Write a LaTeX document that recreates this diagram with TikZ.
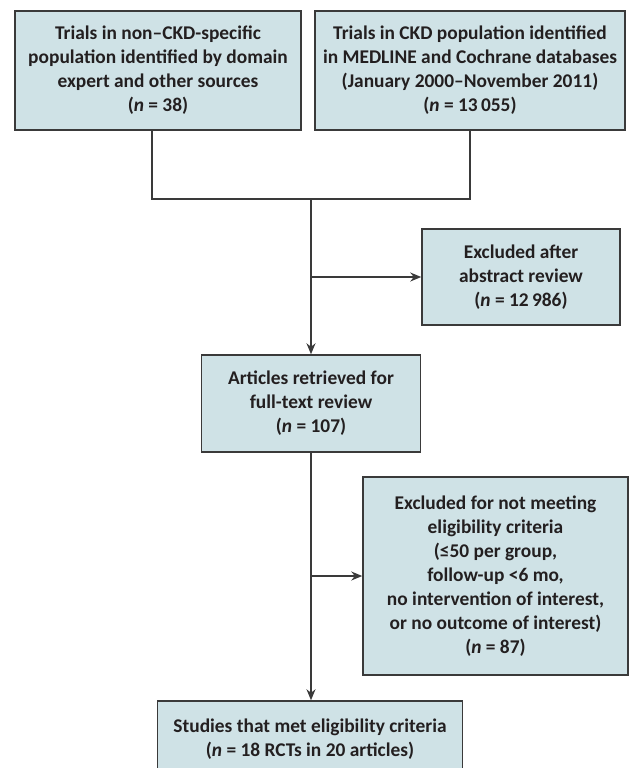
\documentclass[tikz,border=0pt]{standalone}
\usepackage{fontspec}
\setmainfont{Carlito}
\usetikzlibrary{positioning, arrows.meta}
\definecolor{boxfill}{HTML}{CFE2E6}
\definecolor{boxline}{HTML}{3A3A3A}
\definecolor{inkdark}{HTML}{231F20}
\begin{document}
\begin{tikzpicture}[x=0.5pt, y=-0.5pt, font=\bfseries\fontsize{9.7}{12}\selectfont, text=inkdark]

% Define styles
\tikzstyle{box} = [rectangle, draw=boxline, line width=0.75pt, fill=boxfill, align=center, inner sep=0pt]
\tikzstyle{arrow} = [draw=boxline, line width=0.7pt, -{Stealth[length=5.5pt, width=4.5pt]}]
\tikzstyle{link} = [draw=boxline, line width=0.7pt]

% Page
\clip (0,0) rectangle (630,768);
\fill[white] (0,0) rectangle (630,768);

% Sources
\node[box, minimum width=143pt, minimum height=59.5pt] (trialsA) at (158,70.5) {Trials in non--CKD-specific\\population identified by domain\\expert and other sources\\(\textit{n} = 38)};
\node[box, minimum width=155pt, minimum height=59.5pt] (trialsB) at (470,70.5) {Trials in CKD population identified\\in MEDLINE and Cochrane databases\\(January 2000--November 2011)\\(\textit{n} = 13\,055)};

% Join of the two sources
\coordinate (join) at (311,199);
\draw[link] ([xshift=-3pt]trialsA.south) |- (join) -| (trialsB.south);

% Abstract screening
\node[box, minimum width=99pt, minimum height=48pt] (exclAbs) at (521,277) {Excluded after\\abstract review\\(\textit{n} = 12\,986)};
\node[box, minimum width=109.5pt, minimum height=48.5pt] (fulltext) at (311,403.5) {Articles retrieved for\\full-text review\\(\textit{n} = 107)};

\draw[arrow] (join) -- (join |- fulltext.north);
\draw[arrow] (join |- exclAbs.west) -- (exclAbs.west);

% Full-text screening
\node[box, minimum width=132.5pt, minimum height=99pt] (exclElig) at (495.5,576) {Excluded for not meeting\\eligibility criteria\\(≤50 per group,\\follow-up <6 mo,\\no intervention of interest,\\or no outcome of interest)\\(\textit{n} = 87)};
\node[box, minimum width=152.5pt, minimum height=38pt] (studies) at (310,739) {Studies that met eligibility criteria\\(\textit{n} = 18 RCTs in 20 articles)};

\draw[arrow] (fulltext.south) -- (fulltext.south |- studies.north);
\draw[arrow] (fulltext.south |- exclElig.west) -- (exclElig.west);

\end{tikzpicture}
\end{document}
